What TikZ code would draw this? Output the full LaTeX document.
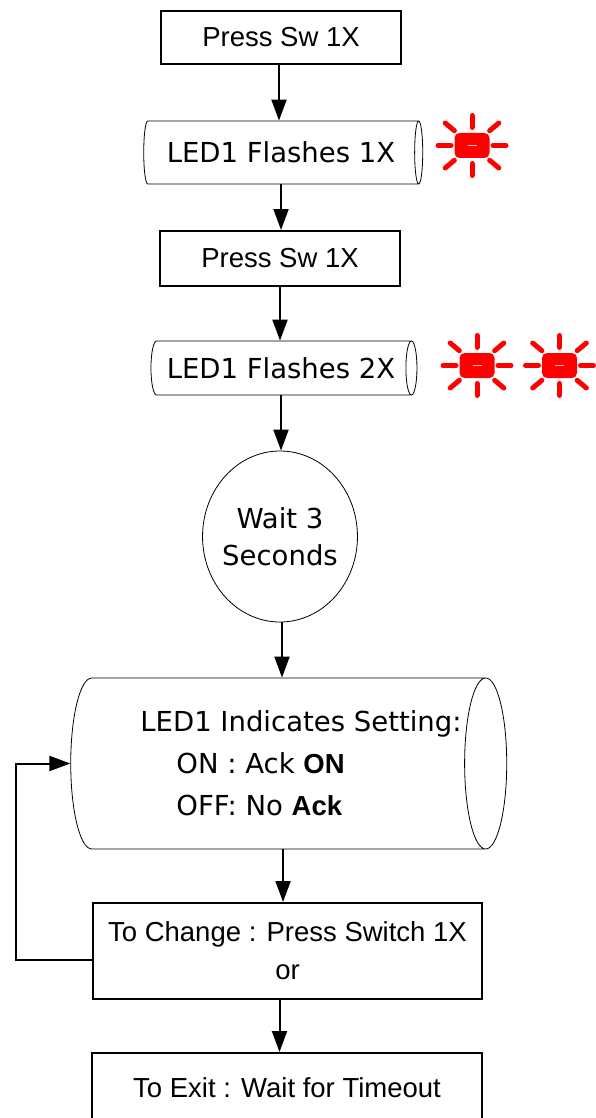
\documentclass[tikz,border=0pt]{standalone}
\usepackage{fontspec}
\setmainfont{Liberation Sans}
\newfontfamily\ledfont{DejaVu Sans}
\usetikzlibrary{shapes.geometric,arrows.meta}

\begin{document}
\begin{tikzpicture}[x=1pt,y=-1pt,
	font=\fontsize{27.5}{38}\selectfont,
	stepbox/.style={shape=rectangle,draw=black,line width=2pt,inner sep=0pt,align=center},
	tube/.style={shape=cylinder,draw=black,line width=0.8pt,inner sep=0pt,font=\fontsize{27.5}{38}\selectfont\ledfont},
	arr/.style={-{Triangle[length=21pt,width=15pt]},line width=2pt},
	ledbody/.style={shape=rectangle,rounded corners=5pt,fill=red,minimum width=35pt,minimum height=25pt,inner sep=0pt},
	ray/.style={red,line width=5pt,line cap=round}]
	
	\useasboundingbox (0,0) rectangle (595,1118);
	
	\node[stepbox,minimum width=240pt,minimum height=53pt] (a) at (281,37.5) {Press Sw 1X};
	\node[tube,minimum height=279pt,minimum width=63pt,aspect=0.38] (b) at (281,152.5) {LED1 Flashes 1X};
	\node[stepbox,minimum width=240pt,minimum height=55pt] (c) at (280,258.5) {Press Sw 1X};
	\node[tube,minimum height=266pt,minimum width=54pt,aspect=0.52] (d) at (281,368) {LED1 Flashes 2X};
	\node[shape=ellipse,draw=black,line width=0.8pt,minimum width=154pt,minimum height=171pt,inner xsep=-3pt,inner ysep=0pt,align=center,font=\fontsize{27.5}{37}\selectfont\ledfont] (e) at (280,536.5) {Wait 3\\Seconds};
	\node[tube,minimum height=436pt,minimum width=171pt,aspect=0.40,align=left] (f) at (278,763.5) {\hspace*{46pt}LED1 Indicates Setting:\\[4pt]\hspace*{82pt}ON : Ack {\rmfamily\bfseries ON}\\[4pt]\hspace*{82pt}OFF: No {\rmfamily\bfseries Ack}};
	\node[stepbox,minimum width=389pt,minimum height=96pt] (g) at (287.5,951) {To Change : Press Switch 1X\\or};
	\node[stepbox,minimum width=390pt,minimum height=70pt] (h) at (287,1088) {To Exit : Wait for Timeout};
	\coordinate (k) at (16,960);
	
	% blinking leds
	\foreach \n/\x/\y in {led1/472/145.5, led2/477/365.5, led3/559.5/365.5}{
		\node[ledbody] (\n) at (\x,\y) {\textcolor{red!25}{\rule{9pt}{1.2pt}}};
		\foreach \a/\ri/\ro in {0/21/34, 90/18/30, 180/21/34, 270/18/30, 40/23/35, 140/23/35, 220/23/35, 320/23/35}
			\draw[ray] (\n.center) ++(\a:\ri) -- ([shift={(\a:\ro)}]\n.center);
	}
	
	\path[arr] ([xshift=-2pt]a.south) edge ([xshift=-2pt]a.south |- b.north);
	\path[arr] (b.south) edge (b.south |- c.north);
	\path[arr] (c.south) edge (c.south |- d.north);
	\path[arr] (d.south) edge (d.south |- e.north);
	\path[arr] ([xshift=2pt]e.south) edge ([xshift=2pt]e.south |- f.north);
	\path[arr] ([xshift=5pt]f.south) edge ([xshift=5pt]f.south |- g.north);
	\path[arr] ([xshift=-8pt]g.south) edge ([xshift=-8pt]g.south |- h.north);
	\draw[arr] ([yshift=-9pt]g.west) -- (k) |- (f.west);
\end{tikzpicture}
\end{document}
